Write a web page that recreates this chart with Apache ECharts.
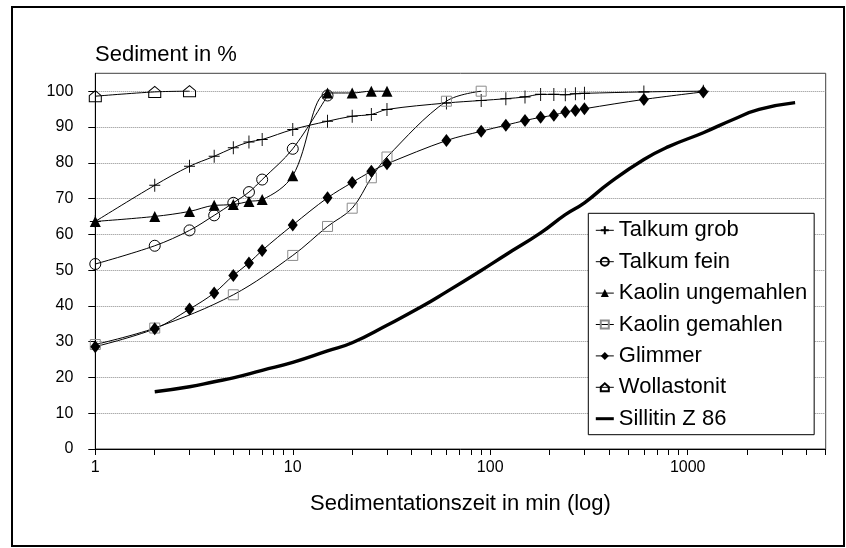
<!DOCTYPE html>
<html>
<head>
<meta charset="utf-8">
<script src="https://cdn.jsdelivr.net/npm/echarts@6/dist/echarts.min.js"></script>
<style>html,body{margin:0;padding:0;background:#fff}#c{width:846px;height:548px}</style>
</head>
<body>
<div id="c"></div>
<script>
const FONT = "'Liberation Sans', Arial, sans-serif";

const xTickValues = [1,2,3,4,5,6,7,8,9,10,20,30,40,50,60,70,80,90,100,200,300,400,500,600,700,800,900,1000,2000,3000,4000,5000];
const xLabelValues = [1,10,100,1000];
const yTickValues = [0,10,20,30,40,50,60,70,80,90,100];

const grobT = [1,2,3,4,5,6,7,10,15,20,25,30,60,90,120,150,180,210,240,270,300,600,1200];
const grobV = [63.6,73.7,79.0,81.8,84.2,85.8,86.5,89.3,91.6,93.0,93.5,94.9,96.7,97.4,97.9,98.4,99.1,99.1,99.0,99.3,99.4,99.8,100];

const feinT = [1,2,3,4,5,6,7,10,15];
const feinV = [51.7,56.8,61.1,65.3,68.8,71.8,75.3,83.9,98.8];

const kaoUT = [1,2,3,4,5,6,7,10,15,20,25,30];
const kaoUV = [63.6,65.0,66.4,68.1,68.3,69.2,69.7,76.4,99.5,99.5,100,100];

const kaoGT = [1,2,5,10,15,20,25,30,60,90];
const kaoGV = [29.2,33.8,43.1,54.1,62.2,67.3,75.8,81.6,97.2,100];

const glimT = [1,2,3,4,5,6,7,10,15,20,25,30,60,90,120,150,180,210,240,270,300,600,1200];
const glimV = [28.6,33.6,39.1,43.6,48.5,52.0,55.5,62.6,70.2,74.5,77.6,79.7,86.2,88.8,90.5,91.8,92.7,93.3,94.2,94.6,95.1,97.7,99.8];

const wollT = [1,2,3];
const wollV = [98.6,99.8,100];

const sillT = [2,3,4,5,7,10,15,20,30,45,60,90,120,180,240,300,400,600,800,1200,1700,2300,3500];
const sillV = [16.0,17.4,18.8,19.9,22.0,24.2,27.4,29.7,34.6,39.8,43.9,49.9,54.3,60.4,65.5,68.8,74.3,80.9,84.5,88.4,92.1,94.9,96.8];

const names = ['Talkum grob','Talkum fein','Kaolin ungemahlen','Kaolin gemahlen','Glimmer','Wollastonit','Sillitin Z 86'];

function zip(t, v) { return t.map((x, i) => [x, v[i]]); }

const thin = {color:'#000', width:1};
const open = {color:'rgba(0,0,0,0)', borderColor:'#000', borderWidth:1};

const series = [
  {name:names[0], data:zip(grobT,grobV), symbol:'path://M0,6L12,6M6,0L6,12', symbolSize:[11,13],
   itemStyle:open, lineStyle:thin},
  {name:names[1], data:zip(feinT,feinV), symbol:'circle', symbolSize:11,
   itemStyle:open, lineStyle:thin},
  {name:names[2], data:zip(kaoUT,kaoUV), symbol:'triangle', symbolSize:11,
   itemStyle:{color:'#000'}, lineStyle:thin},
  {name:names[3], data:zip(kaoGT,kaoGV), symbol:'rect', symbolSize:10,
   itemStyle:{color:'rgba(0,0,0,0)', borderColor:'#8c8c8c', borderWidth:1}, lineStyle:thin},
  {name:names[4], data:zip(glimT,glimV), symbol:'diamond', symbolSize:[10,13],
   itemStyle:{color:'#000'}, lineStyle:thin},
  {name:names[5], data:zip(wollT,wollV), symbol:'path://M0,5L6,0L12,5L12,11L0,11Z', symbolSize:[12,11],
   itemStyle:open, lineStyle:thin},
  {name:names[6], data:zip(sillT,sillV), symbol:'none', smooth:0.5,
   itemStyle:{color:'#000'}, lineStyle:{color:'#000', width:3.4}}
].map(s => Object.assign({type:'line', smooth:0.35, showSymbol:true, animation:false}, s));

const legendData = names.map((n, i) => i === 6
  ? {name:n, icon:'path://M0,0L18,0L18,3L0,3Z', itemStyle:{color:'#000'}}
  : {name:n, lineStyle:{color:'#000', width:1}});

const chart = echarts.init(document.getElementById('c'), null, {renderer:'canvas'});
chart.setOption({
  animation:false,
  backgroundColor:'#fff',
  textStyle:{fontFamily:FONT},
  title:{text:'Sediment in %', left:95, top:43.7, padding:0,
    textStyle:{fontSize:22, fontWeight:'normal', color:'#000', fontFamily:FONT}},
  grid:{left:95.3, right:20.3, top:73.3, bottom:99, show:true, borderColor:'#404040', borderWidth:1, containLabel:false},
  xAxis:{type:'log', logBase:10, min:1, max:5000,
    name:'Sedimentationszeit in min (log)', nameLocation:'middle', nameGap:44,
    nameTextStyle:{fontSize:22, color:'#000', fontFamily:FONT},
    axisLine:{show:true, lineStyle:{color:'#000', width:1}},
    axisTick:{show:true, inside:false, length:6, lineStyle:{color:'#000'}, customValues:xTickValues},
    axisLabel:{fontSize:16, color:'#000', margin:11, fontFamily:FONT, customValues:xLabelValues,
      formatter:v => String(Math.round(v))},
    splitLine:{show:false}, minorTick:{show:false}},
  yAxis:{type:'value', min:0, max:105, interval:10,
    axisLine:{show:true, lineStyle:{color:'#000', width:1}},
    axisTick:{show:true, length:7, lineStyle:{color:'#000'}, customValues:yTickValues},
    axisLabel:{fontSize:16, color:'#000', margin:22, fontFamily:FONT, customValues:yTickValues},
    splitLine:{show:true, lineStyle:{color:'#8a8a8a', type:'dotted', width:1}}},
  legend:{orient:'vertical', left:588.3, top:213.3, padding:[6,7,5,7],
    itemWidth:18, itemHeight:10, itemGap:9.4,
    backgroundColor:'#fff', borderColor:'#000', borderWidth:1,
    lineStyle:{color:'#000', width:1},
    textStyle:{fontSize:22, color:'#000', fontFamily:FONT},
    data:legendData},
  graphic:[{type:'rect', shape:{x:12, y:7, width:832, height:539},
    style:{fill:'none', stroke:'#000', lineWidth:2}, silent:true, z:100}],
  series:series
});
</script>
</body>
</html>
